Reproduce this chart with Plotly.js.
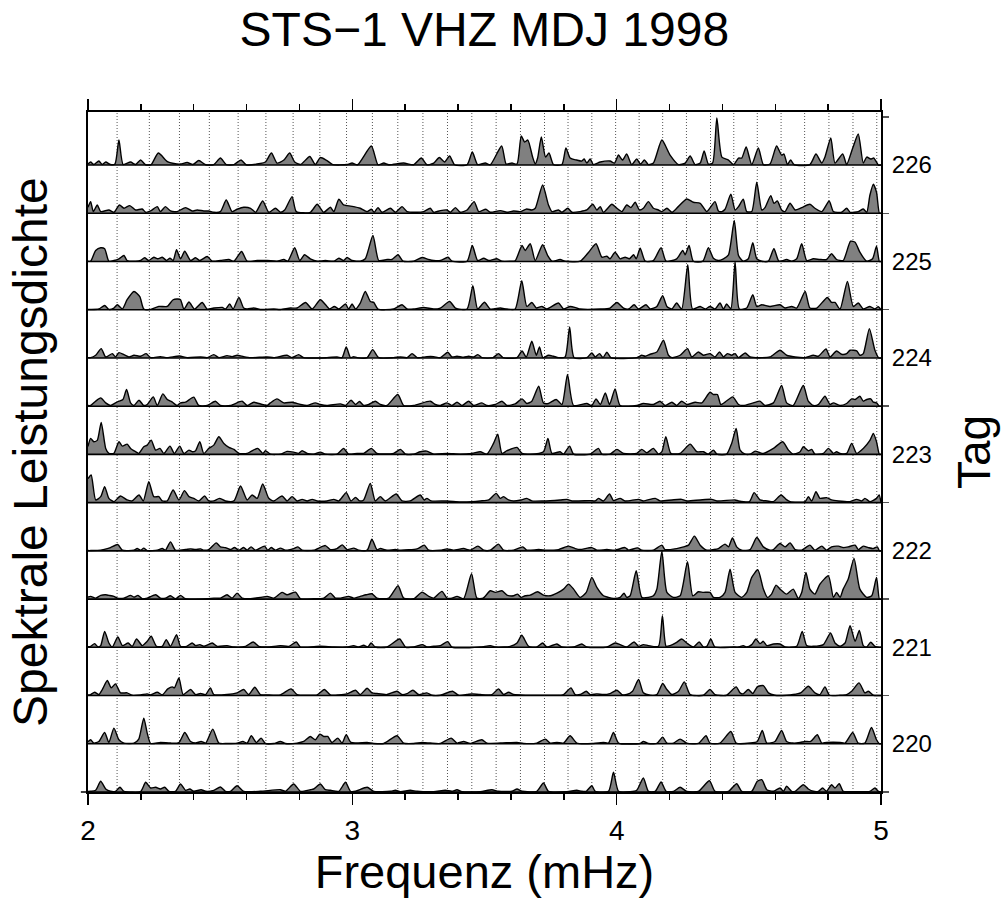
<!DOCTYPE html>
<html><head><meta charset="utf-8">
<script src="https://cdn.plot.ly/plotly-3.0.1.min.js"></script>
<style>html,body{margin:0;padding:0;background:#fff}#chart{width:1007px;height:898px}</style>
</head><body><div id="chart"></div>
<script>
// Frequencies (mHz) of the dotted reference lines
const modeFreqs = [2.110,2.232,2.346,2.459,2.568,2.673,2.776,2.877,2.978,3.076,3.172,3.267,3.360,3.452,3.544,3.636,3.727,3.816,3.906,3.996,4.085,4.174,4.264,4.355,4.443,4.532,4.622,4.711,4.803,4.894,4.984];

// Start time (day of year) of each spectrum segment, top to bottom
const segStart = [226.5,226.0,225.5,225.0,224.5,224.0,223.5,223.0,222.5,222.0,221.5,221.0,220.5,220.0];

// Day labels on the right axis
const dayVals = [220.5,221.5,222.5,223.5,224.5,225.5,226.5];
const dayText = ['220','221','222','223','224','225','226'];
const dayBounds = [220,221,222,223,224,225,226,227];

// Spectra: [frequency mHz, relative power]
const s226b = [[2.000,1],[2.010,3],[2.022,0.5],[2.041,4],[2.054,0.5],[2.067,3],[2.085,0.5],[2.102,1],[2.117,25],[2.133,0.5],[2.161,3],[2.180,0.5],[2.199,5],[2.218,0.3],[2.239,0.5],[2.266,12],[2.300,3.5],[2.325,1.5],[2.350,1],[2.375,2.5],[2.397,0.5],[2.419,4.5],[2.445,0.3],[2.476,0.5],[2.501,7],[2.523,0.5],[2.552,0.5],[2.579,5],[2.598,0.3],[2.652,1.5],[2.671,3],[2.694,12],[2.715,2],[2.741,5],[2.763,12],[2.782,3],[2.804,0.5],[2.839,8.5],[2.860,0.5],[2.879,7.5],[2.901,5],[2.926,0.5],[2.980,0.5],[2.999,2],[3.020,0.3],[3.072,19],[3.097,0.3],[3.119,2],[3.138,0.3],[3.194,2],[3.232,0.3],[3.261,7],[3.282,0.3],[3.308,2],[3.329,7.5],[3.349,3],[3.368,9],[3.387,0.3],[3.434,0.3],[3.454,13],[3.474,0.5],[3.503,2],[3.522,0.3],[3.565,19],[3.582,1],[3.604,2],[3.623,1],[3.639,29],[3.652,23],[3.664,25],[3.682,8],[3.692,1],[3.701,7],[3.715,28],[3.731,8],[3.744,12],[3.761,0.5],[3.793,0.5],[3.808,17],[3.824,7],[3.849,5],[3.868,4],[3.877,6],[3.887,2],[3.900,6],[3.912,0.5],[3.938,3],[3.975,4],[3.992,2],[4.007,10],[4.022,5],[4.038,11],[4.057,0.5],[4.076,6],[4.090,1],[4.105,5],[4.120,0.5],[4.139,2],[4.171,25],[4.202,10],[4.234,0.5],[4.259,2],[4.278,9],[4.297,0.5],[4.316,2],[4.331,14],[4.347,1],[4.363,2],[4.379,47],[4.398,8],[4.423,5],[4.442,0.5],[4.461,7],[4.473,7],[4.490,18],[4.511,0.5],[4.536,17],[4.555,0.5],[4.580,1],[4.605,19],[4.624,10],[4.633,11],[4.646,0.5],[4.658,5],[4.672,0.3],[4.731,0.5],[4.754,11],[4.776,2],[4.788,8],[4.810,27],[4.826,2],[4.855,11],[4.870,0.5],[4.893,17],[4.914,31],[4.933,2],[4.946,8],[4.961,6],[4.973,7],[4.990,0],[5.000,0]];
const s226a = [[2.000,6],[2.010,11.7],[2.020,1.7],[2.035,8.3],[2.048,1.7],[2.079,3.3],[2.098,1],[2.119,8.3],[2.136,5],[2.158,7.7],[2.180,3.3],[2.205,4.3],[2.218,1],[2.237,2.3],[2.262,6.7],[2.274,1.7],[2.293,6.7],[2.312,2.3],[2.337,1.7],[2.369,5.7],[2.394,2.3],[2.413,3.3],[2.438,2.3],[2.457,2.3],[2.476,1],[2.501,1.7],[2.523,13.3],[2.545,1.7],[2.564,4],[2.589,6],[2.615,5],[2.634,1],[2.661,12.3],[2.684,1],[2.709,5],[2.728,1],[2.744,3.3],[2.772,16.7],[2.788,1.7],[2.841,1],[2.867,9],[2.892,1],[2.917,6],[2.930,1.7],[2.949,14],[2.967,8.3],[2.980,7.7],[3.005,6.7],[3.030,5],[3.056,1.7],[3.072,4],[3.083,1],[3.097,5.7],[3.112,1],[3.144,5],[3.163,1],[3.188,6.7],[3.207,1.7],[3.245,1],[3.270,1.7],[3.295,5],[3.308,1],[3.333,2.7],[3.358,3.3],[3.371,1],[3.390,5.7],[3.408,1],[3.434,3.3],[3.461,11.7],[3.478,1.7],[3.505,4],[3.522,1],[3.560,2.7],[3.585,1],[3.610,2.3],[3.635,1.7],[3.660,4.3],[3.679,3.3],[3.692,5],[3.720,28.3],[3.742,8.3],[3.755,1.7],[3.780,3.3],[3.793,1],[3.815,5],[3.831,1],[3.862,1.7],[3.887,3.3],[3.910,9],[3.925,3.3],[3.938,6.7],[3.950,1],[3.982,9],[4.001,5],[4.020,1.7],[4.038,8.3],[4.054,5.7],[4.070,11],[4.086,3.3],[4.101,5],[4.120,11.7],[4.139,5],[4.158,3.3],[4.171,1.7],[4.190,5],[4.209,1],[4.227,5],[4.265,14.3],[4.290,11],[4.316,10],[4.341,1.7],[4.372,11.7],[4.385,2.3],[4.398,1.7],[4.410,4],[4.432,19],[4.448,3.3],[4.461,6.7],[4.479,14],[4.492,1.7],[4.511,1.7],[4.530,31],[4.549,3.3],[4.561,5.7],[4.583,17.7],[4.595,10],[4.608,12.3],[4.624,3.3],[4.637,1.7],[4.656,10],[4.675,3.3],[4.700,5.7],[4.731,9],[4.750,5],[4.776,1.7],[4.804,12.3],[4.820,1.7],[4.851,1],[4.870,5],[4.883,1],[4.914,1.7],[4.933,4.3],[4.946,1],[4.958,18],[4.971,29],[4.983,21],[4.994,0],[5.000,0]];
const s225b = [[2.000,0.3],[2.010,0.3],[2.029,11],[2.048,13.7],[2.063,12.7],[2.079,0.3],[2.098,1],[2.117,2.7],[2.136,6],[2.148,1],[2.180,0.3],[2.199,1],[2.214,3.7],[2.230,1],[2.249,4.3],[2.264,2.7],[2.281,4.3],[2.297,1],[2.310,3.3],[2.322,1],[2.335,11.7],[2.350,2.7],[2.366,10.3],[2.388,1],[2.407,3.7],[2.423,1],[2.451,5],[2.470,0.3],[2.501,1],[2.533,2],[2.552,0.3],[2.581,10],[2.602,0.3],[2.640,1],[2.678,1],[2.715,0.3],[2.741,2],[2.756,0.3],[2.782,13.7],[2.801,1],[2.819,6.7],[2.841,2.7],[2.867,0.3],[2.898,1],[2.930,0.3],[2.949,3.3],[2.967,1],[2.980,4],[2.999,1],[3.030,0.3],[3.049,2.7],[3.078,26],[3.100,1],[3.131,2],[3.150,2],[3.173,6.7],[3.192,0.3],[3.232,0.3],[3.264,4],[3.289,2],[3.308,1],[3.333,1],[3.362,4.3],[3.377,0.3],[3.434,0.3],[3.454,16],[3.474,1],[3.497,3.3],[3.516,1],[3.547,2.7],[3.566,0.3],[3.597,0.3],[3.616,0.7],[3.642,16],[3.654,11],[3.673,17.7],[3.692,1],[3.720,16.7],[3.739,6],[3.755,0.3],[3.786,2],[3.805,0.3],[3.862,0.3],[3.894,9.3],[3.922,17.7],[3.944,4.3],[3.963,5.3],[3.975,2.7],[3.994,9.3],[4.013,2.7],[4.032,4.3],[4.048,2.7],[4.064,6.7],[4.074,2.7],[4.089,13.3],[4.108,0.3],[4.139,1],[4.168,13.7],[4.187,0.3],[4.227,2.7],[4.250,11],[4.259,6.7],[4.274,16],[4.290,0.3],[4.326,0.3],[4.347,13.7],[4.366,3.3],[4.385,1],[4.404,2.7],[4.423,6.7],[4.445,41],[4.461,6],[4.479,0.3],[4.498,2.7],[4.515,18.7],[4.530,2.7],[4.549,0.3],[4.574,0.3],[4.595,12.7],[4.614,0.3],[4.643,2],[4.662,0.3],[4.681,2.7],[4.700,17.7],[4.719,1],[4.744,2.7],[4.769,2],[4.794,2],[4.813,7.7],[4.832,2],[4.857,1],[4.885,20.3],[4.902,19.3],[4.920,9.3],[4.946,0.3],[4.968,2.7],[4.983,15.3],[4.994,0],[5.000,0]];
const s225a = [[2.000,0.3],[2.041,0.7],[2.063,4.3],[2.079,0.3],[2.098,1.7],[2.111,5],[2.130,0.7],[2.148,10],[2.174,18.3],[2.196,13],[2.211,0.7],[2.237,0.3],[2.268,3.3],[2.300,3.3],[2.322,10],[2.340,10.7],[2.350,10],[2.363,0.7],[2.382,7.7],[2.403,0.7],[2.432,7.3],[2.451,0.7],[2.476,1.7],[2.508,2.3],[2.520,0.7],[2.536,5.7],[2.549,0.7],[2.571,12.3],[2.589,1.7],[2.602,0.7],[2.627,1.7],[2.652,0.3],[2.703,0.7],[2.728,0.3],[2.766,1.7],[2.791,1.7],[2.823,7.3],[2.848,0.7],[2.879,10],[2.904,3.3],[2.914,0.7],[2.932,3.3],[2.949,0.7],[2.974,5.7],[2.986,0.7],[2.999,5.7],[3.012,0.7],[3.030,6.7],[3.049,18.3],[3.068,8.3],[3.081,7.3],[3.097,0.7],[3.156,0.7],[3.188,5],[3.207,0.7],[3.232,0.7],[3.270,2.3],[3.308,0.7],[3.333,1.7],[3.368,8.3],[3.390,1.7],[3.434,0.7],[3.456,24],[3.474,0.7],[3.500,7.5],[3.522,0.7],[3.560,1.7],[3.585,0.7],[3.616,0.7],[3.641,29],[3.660,3.3],[3.679,7.3],[3.696,1.7],[3.717,3.3],[3.736,0.7],[3.780,6.7],[3.799,0.7],[3.824,3.3],[3.849,1.7],[3.862,0.7],[3.938,0.7],[3.975,1.7],[4.001,7.3],[4.026,1.7],[4.045,0.7],[4.066,5],[4.083,0.7],[4.111,5],[4.127,0.7],[4.152,3.3],[4.174,14],[4.190,3.3],[4.209,0.7],[4.227,6.7],[4.246,0.7],[4.269,45],[4.287,0.7],[4.316,3.3],[4.335,0.7],[4.353,3.3],[4.372,0.7],[4.391,6.7],[4.404,0.7],[4.416,5.7],[4.432,1],[4.448,48],[4.464,0.7],[4.492,1.7],[4.515,15],[4.530,3.3],[4.549,5],[4.580,3.3],[4.618,5],[4.637,1.7],[4.662,3.3],[4.681,1.7],[4.713,18.3],[4.731,1.7],[4.757,1.7],[4.797,12.3],[4.813,7.3],[4.826,7.3],[4.845,0.7],[4.873,28.3],[4.895,3.3],[4.914,6.7],[4.933,0.7],[4.958,3.3],[4.977,0.7],[4.990,3],[5.000,0]];
const s224b = [[2.000,0.3],[2.010,0.3],[2.029,2.7],[2.050,9.3],[2.067,1],[2.092,4.3],[2.104,1],[2.117,5.3],[2.136,3.3],[2.155,1],[2.174,2.7],[2.199,1.7],[2.220,4.3],[2.237,0.3],[2.274,1.3],[2.300,0.3],[2.346,2],[2.375,0.3],[2.426,1],[2.451,0.3],[2.476,3.3],[2.495,0.3],[2.526,2.3],[2.545,1.3],[2.564,2.7],[2.589,1.3],[2.615,0.3],[2.678,1],[2.703,0.3],[2.753,2.7],[2.772,0.3],[2.797,3.3],[2.816,0.3],[2.904,0.3],[2.942,1],[2.961,0.3],[2.977,11],[2.993,0.3],[3.005,1.3],[3.018,0.3],[3.056,0.3],[3.077,8.3],[3.100,0.3],[3.156,0.3],[3.182,1],[3.207,0.3],[3.226,4.3],[3.245,0.3],[3.282,1.3],[3.308,1.3],[3.333,0.3],[3.361,5.7],[3.377,1],[3.396,1.7],[3.421,0.7],[3.440,1.7],[3.459,1],[3.475,3.3],[3.490,0.3],[3.532,0.3],[3.553,4.3],[3.570,0.3],[3.623,0.3],[3.642,7],[3.658,1],[3.679,16.7],[3.696,2.7],[3.708,11],[3.721,0.3],[3.742,2.7],[3.761,1.7],[3.780,0.3],[3.805,1],[3.822,31],[3.839,0.3],[3.887,0.3],[3.906,5],[3.919,1],[3.935,4.3],[3.948,0.3],[3.963,5.7],[3.978,0.3],[4.076,0.3],[4.095,2.7],[4.108,1.7],[4.127,3.7],[4.152,6],[4.177,17.7],[4.196,2.7],[4.209,0.3],[4.240,2.7],[4.268,9.3],[4.284,1],[4.309,6],[4.328,2.7],[4.353,4.3],[4.372,1],[4.389,6],[4.404,1],[4.419,4.3],[4.435,2.7],[4.448,4.3],[4.461,0.3],[4.486,5],[4.505,1],[4.549,0.3],[4.580,1],[4.618,7.7],[4.643,2.7],[4.675,1],[4.713,0.3],[4.744,2.7],[4.763,1.7],[4.792,9],[4.807,1],[4.832,7],[4.851,3.7],[4.870,4.3],[4.883,7.7],[4.908,7],[4.920,2.7],[4.933,4.3],[4.956,29.3],[4.977,7.7],[4.992,0],[5.000,0]];
const s224a = [[2.000,0.7],[2.010,0.7],[2.029,5],[2.048,8.3],[2.067,3.3],[2.085,0.7],[2.104,3.3],[2.117,5],[2.132,6.7],[2.146,16.7],[2.161,3.3],[2.174,0.7],[2.193,6],[2.211,0.7],[2.224,1.7],[2.247,9.3],[2.262,0.7],[2.283,12.3],[2.300,6.7],[2.319,4],[2.337,0.7],[2.350,3.3],[2.369,4],[2.400,9],[2.419,0.7],[2.451,0.7],[2.482,5],[2.501,0.7],[2.539,0.7],[2.583,5],[2.602,0.7],[2.627,4],[2.659,1.7],[2.678,0.7],[2.690,3.3],[2.715,7.3],[2.741,3.3],[2.772,4],[2.804,1.7],[2.829,0.7],[2.860,3.3],[2.879,1.7],[2.904,0.7],[2.955,2.3],[2.974,0.7],[2.995,6],[3.012,1.7],[3.027,4.7],[3.043,0.7],[3.062,1.7],[3.087,5],[3.106,1.7],[3.131,0.7],[3.172,11.7],[3.194,0.7],[3.232,0.7],[3.295,5],[3.314,1.7],[3.333,0.7],[3.358,3.3],[3.377,0.7],[3.396,4],[3.415,0.7],[3.440,5],[3.459,0.7],[3.490,3.3],[3.509,0.7],[3.541,1.7],[3.566,5],[3.585,0.7],[3.616,2.3],[3.642,7.3],[3.660,2.7],[3.679,5],[3.705,20],[3.723,3.3],[3.742,2.7],[3.771,6.7],[3.793,1.7],[3.814,31.7],[3.837,0.7],[3.887,2.7],[3.906,0.7],[3.922,7.3],[3.938,1.7],[3.957,13.3],[3.973,1.7],[3.994,17.3],[4.013,0.7],[4.076,0.7],[4.101,2.7],[4.139,1.7],[4.164,5],[4.183,0.7],[4.209,4],[4.227,0.7],[4.246,5],[4.265,1.7],[4.297,4],[4.322,3.3],[4.353,14],[4.366,11.7],[4.381,11.7],[4.394,1.7],[4.410,4],[4.439,9.3],[4.461,1.7],[4.479,0.7],[4.517,3.3],[4.542,5],[4.561,0.7],[4.593,3.3],[4.624,20.7],[4.643,3.3],[4.668,0.7],[4.706,20.7],[4.725,5],[4.744,0.7],[4.763,1.7],[4.788,10],[4.807,1.7],[4.820,3.3],[4.845,0.7],[4.870,2.7],[4.889,7.3],[4.902,6.7],[4.920,10],[4.933,5],[4.946,6.7],[4.961,7.3],[4.971,4],[4.983,3.3],[4.994,0],[5.000,0]];
const s223b = [[2.000,8],[2.010,16],[2.022,12.7],[2.035,14],[2.050,32],[2.067,6],[2.079,1],[2.098,1],[2.117,12.7],[2.130,8.3],[2.148,10.3],[2.161,6],[2.180,2.7],[2.192,1],[2.211,7.7],[2.224,9.3],[2.239,14.3],[2.256,4.3],[2.272,6],[2.287,1],[2.310,8.3],[2.327,1],[2.347,8.3],[2.363,1],[2.382,4.3],[2.394,2.7],[2.407,3.7],[2.423,12.7],[2.438,1],[2.457,6],[2.476,9.3],[2.495,17.7],[2.514,11],[2.533,7],[2.552,5],[2.571,1],[2.602,1],[2.615,2.7],[2.642,6],[2.662,1],[2.671,3.7],[2.690,0.3],[2.728,0.3],[2.753,3],[2.778,2.3],[2.797,1],[2.810,3.7],[2.829,1],[2.854,0.3],[2.879,2.3],[2.898,0.3],[2.942,0.3],[2.967,6],[2.986,0.3],[3.018,1],[3.043,1],[3.072,6],[3.093,1],[3.156,1],[3.182,5],[3.201,0.3],[3.232,0.3],[3.257,2.7],[3.282,3.3],[3.308,0.3],[3.358,1],[3.408,0.3],[3.453,1],[3.484,2.7],[3.509,0.3],[3.534,11],[3.550,20.3],[3.566,1],[3.585,3.7],[3.623,7],[3.642,1],[3.673,0.3],[3.723,2.7],[3.740,16],[3.755,1],[3.786,2.7],[3.799,0.3],[3.822,8.3],[3.837,0.3],[3.900,0.3],[3.931,6],[3.944,0.3],[3.975,0.3],[4.001,5],[4.026,1],[4.076,1],[4.095,5],[4.114,1.7],[4.139,6],[4.158,0.3],[4.171,2.7],[4.186,17.7],[4.205,1],[4.240,1],[4.278,10.3],[4.303,2.7],[4.328,2.7],[4.347,0.3],[4.366,4.3],[4.379,0.3],[4.416,0.3],[4.435,11],[4.452,26],[4.467,4.3],[4.486,0.3],[4.505,0.3],[4.524,3.3],[4.542,1.7],[4.555,1],[4.593,6],[4.628,12.7],[4.650,4.3],[4.668,0.3],[4.694,2.7],[4.706,7.7],[4.725,3.7],[4.738,5],[4.750,0.3],[4.782,1],[4.801,6],[4.820,1],[4.832,2.7],[4.845,1],[4.870,1],[4.889,11],[4.908,1],[4.933,6],[4.958,14],[4.971,21],[4.983,12.7],[4.994,0],[5.000,0]];
const s223a = [[2.000,24],[2.012,27.7],[2.029,2.7],[2.048,6],[2.063,16],[2.079,4.3],[2.098,1],[2.123,6.7],[2.148,2.7],[2.167,1.7],[2.193,7.7],[2.209,1.7],[2.230,21],[2.249,6],[2.268,6],[2.281,1.7],[2.300,1.7],[2.322,12.7],[2.344,2.7],[2.365,12],[2.382,6],[2.400,4.3],[2.419,1.7],[2.441,6.7],[2.457,1.7],[2.476,1.7],[2.497,4.3],[2.520,1.7],[2.552,1.7],[2.577,16.7],[2.602,2.7],[2.621,7.7],[2.640,4.3],[2.661,18.7],[2.684,4.3],[2.703,1.7],[2.734,6.7],[2.753,1.7],[2.772,6],[2.791,1.7],[2.810,3.3],[2.829,1.7],[2.848,3.3],[2.867,1.7],[2.904,1.7],[2.930,3.3],[2.949,1.7],[2.977,10],[2.995,1.7],[3.012,5.3],[3.028,1.7],[3.043,2.7],[3.068,19.3],[3.087,1.7],[3.106,6],[3.125,1.7],[3.166,8.7],[3.188,1.7],[3.219,1.7],[3.257,7.7],[3.272,2.7],[3.282,4.3],[3.298,1.7],[3.358,1.7],[3.408,0.7],[3.453,1],[3.484,1.7],[3.516,2.7],[3.544,9.3],[3.560,4.3],[3.572,6],[3.591,2.7],[3.610,1.7],[3.638,2.7],[3.660,4.3],[3.679,1.7],[3.723,1.7],[3.786,2.7],[3.812,3.3],[3.831,1.7],[3.900,2],[3.919,1.7],[3.931,4.3],[3.950,1.7],[3.973,8.7],[3.988,2],[4.013,4.3],[4.032,1.7],[4.083,3.3],[4.101,1.7],[4.146,4.3],[4.164,1.7],[4.209,2.7],[4.246,3.3],[4.265,1.7],[4.316,2.7],[4.360,3.3],[4.379,1.7],[4.448,2.7],[4.461,1.7],[4.502,1],[4.520,10],[4.542,2.7],[4.570,1.7],[4.593,1],[4.622,7.7],[4.641,3.3],[4.656,1],[4.713,1],[4.725,6],[4.738,1.7],[4.754,11],[4.769,4.3],[4.794,5],[4.813,2.7],[4.839,1.7],[4.883,1],[4.908,3.3],[4.927,1.7],[4.939,4.3],[4.958,1],[4.983,4.3],[4.993,7.7],[5.000,0]];
const s222b = [[2.000,0.3],[2.010,0.3],[2.048,0.7],[2.073,2.3],[2.085,3.3],[2.113,6.3],[2.130,0.7],[2.174,0.7],[2.186,2.3],[2.199,0.7],[2.211,2.7],[2.224,0.3],[2.262,0.7],[2.281,2.3],[2.293,0.7],[2.312,9],[2.331,0.7],[2.369,1.3],[2.388,2],[2.407,1.3],[2.426,2],[2.438,0.7],[2.457,1.3],[2.485,8],[2.501,4],[2.520,3.3],[2.539,1.3],[2.554,3.3],[2.571,0.7],[2.589,3.3],[2.602,0.7],[2.617,4],[2.634,0.7],[2.668,4.7],[2.680,0.7],[2.693,3.3],[2.709,0.7],[2.728,2.7],[2.747,0.7],[2.778,2.3],[2.794,4],[2.810,0.7],[2.854,0.7],[2.898,5.3],[2.917,1.3],[2.942,2.3],[2.962,6],[2.980,1.3],[3.005,2.7],[3.024,0.7],[3.056,0.7],[3.074,11.7],[3.093,1.3],[3.106,2.3],[3.131,0.7],[3.163,1.3],[3.182,0.7],[3.245,2],[3.272,5.7],[3.289,0.7],[3.333,0.7],[3.358,2],[3.383,0.7],[3.421,2.3],[3.446,0.7],[3.475,4.7],[3.497,0.7],[3.522,0.7],[3.553,6.7],[3.572,0.7],[3.610,0.7],[3.645,4],[3.660,0.7],[3.705,1.3],[3.736,0.7],[3.780,1.3],[3.818,4.7],[3.843,2.3],[3.862,1.3],[3.906,3.3],[3.925,0.7],[3.963,1.3],[3.994,0.7],[4.032,3.3],[4.045,0.7],[4.079,3],[4.095,0.7],[4.139,0.7],[4.171,5.7],[4.183,1.3],[4.227,2.3],[4.253,4],[4.272,5.7],[4.294,14.7],[4.316,5.7],[4.341,0.7],[4.366,1.3],[4.385,2.3],[4.410,6.7],[4.423,4],[4.438,13],[4.454,4],[4.473,0.7],[4.505,1.3],[4.530,13.3],[4.555,4],[4.580,0.7],[4.593,1.3],[4.618,7.3],[4.637,4],[4.656,8],[4.675,1.3],[4.700,0.7],[4.731,5.7],[4.750,0.7],[4.776,4.7],[4.794,0.7],[4.813,4],[4.839,4.7],[4.857,3.3],[4.876,4],[4.902,5.7],[4.914,1.3],[4.933,4.7],[4.952,3.3],[4.971,2.3],[4.986,4],[4.994,0],[5.000,0]];
const s222a = [[2.000,2],[2.010,2.7],[2.029,1],[2.048,3.7],[2.067,4.3],[2.079,3.7],[2.098,2.7],[2.111,1],[2.136,1],[2.161,3.7],[2.174,2],[2.189,3.7],[2.205,0.3],[2.224,1],[2.256,4.3],[2.274,1],[2.293,1],[2.312,3.3],[2.331,0.3],[2.350,3.7],[2.369,0.3],[2.451,0.3],[2.476,1],[2.501,1],[2.526,4.3],[2.545,1],[2.564,6],[2.583,1],[2.615,0.3],[2.652,1.7],[2.678,2.7],[2.703,1],[2.734,6.7],[2.753,4.3],[2.785,7],[2.804,0.3],[2.854,0.3],[2.892,1],[2.917,6],[2.936,1],[2.955,1],[2.986,2.7],[3.005,1],[3.030,2.7],[3.052,4.3],[3.074,5.3],[3.093,1],[3.138,1],[3.173,13.3],[3.194,1],[3.232,0.3],[3.264,7],[3.289,2.7],[3.308,1],[3.339,7.7],[3.358,1],[3.377,1],[3.396,2.7],[3.421,0.3],[3.451,25.3],[3.471,1],[3.495,1],[3.522,8.3],[3.541,6.7],[3.566,8.3],[3.585,4],[3.610,3.3],[3.625,5],[3.638,1.7],[3.654,3.3],[3.673,4],[3.701,7.3],[3.723,4],[3.749,3.3],[3.774,6],[3.799,10],[3.818,15],[3.837,10],[3.862,1.7],[3.885,6.7],[3.906,21.7],[3.925,11.7],[3.950,3.3],[3.969,1.7],[3.988,0.7],[4.013,1.7],[4.028,6],[4.038,1.7],[4.051,3.3],[4.074,28.3],[4.095,1.7],[4.120,1.7],[4.139,3.3],[4.152,10],[4.171,48],[4.190,6.7],[4.215,1.7],[4.240,3.3],[4.268,37.3],[4.288,3.3],[4.309,7.3],[4.328,6.7],[4.353,6.7],[4.366,1.7],[4.391,1.7],[4.410,6.7],[4.429,30],[4.448,6.7],[4.473,1.7],[4.492,6.7],[4.511,21.7],[4.534,29.3],[4.555,10],[4.570,1.7],[4.586,5],[4.603,14],[4.618,10],[4.643,5],[4.668,10],[4.687,0.7],[4.700,6.7],[4.716,26.7],[4.731,10],[4.750,5],[4.769,15],[4.801,23.3],[4.820,1.7],[4.832,6.7],[4.845,1.7],[4.857,10],[4.876,20],[4.898,40.7],[4.920,10],[4.946,1.7],[4.965,3.3],[4.983,21.7],[4.994,0],[5.000,0]];
const s221b = [[2.000,0.5],[2.010,1],[2.025,3.7],[2.038,0.3],[2.048,1.7],[2.063,16],[2.079,4.3],[2.092,0.3],[2.113,10.3],[2.130,1.7],[2.152,4.3],[2.167,1],[2.184,8.3],[2.205,1.7],[2.224,6],[2.239,11],[2.259,1],[2.281,1],[2.296,7.7],[2.312,1],[2.335,12.7],[2.350,1],[2.373,1],[2.394,4.3],[2.407,1.7],[2.423,2.7],[2.438,1],[2.470,4.3],[2.489,1],[2.526,1.7],[2.552,0.3],[2.596,1],[2.625,5.3],[2.646,1],[2.678,0.3],[2.728,1.7],[2.760,1],[2.788,5.3],[2.804,0.3],[2.879,1],[2.930,0.3],[2.980,0.3],[3.005,1.7],[3.024,0.3],[3.043,2],[3.058,0.3],[3.071,4.3],[3.087,0.3],[3.131,0.3],[3.179,8.3],[3.201,0.3],[3.232,0.3],[3.266,2.7],[3.282,0.3],[3.308,1],[3.333,1.7],[3.361,5.7],[3.377,0.3],[3.484,0.3],[3.522,1.7],[3.541,0.3],[3.572,0.3],[3.597,1],[3.623,4.3],[3.641,12],[3.667,1],[3.698,0.3],[3.720,4.3],[3.736,0.3],[3.774,3.3],[3.793,0.3],[3.837,0.3],[3.868,3.3],[3.887,0.3],[3.963,0.3],[3.994,4.3],[4.013,2.7],[4.038,0.3],[4.066,5.3],[4.083,1],[4.101,2.7],[4.120,1.7],[4.158,1],[4.173,31.7],[4.187,1],[4.202,1.7],[4.227,5],[4.246,8.3],[4.265,4.3],[4.290,0.3],[4.312,5.3],[4.328,0.3],[4.341,1],[4.356,8.3],[4.372,0.3],[4.442,0.3],[4.461,0.3],[4.479,1.7],[4.492,0.3],[4.511,2.7],[4.527,8.3],[4.542,3.7],[4.555,6],[4.568,1.7],[4.593,3.3],[4.618,3.3],[4.637,0.3],[4.681,1],[4.702,16],[4.719,1.7],[4.744,1],[4.782,2.7],[4.809,14.3],[4.826,4.3],[4.845,1],[4.864,4.3],[4.883,21.7],[4.902,6],[4.918,17],[4.933,1.7],[4.946,0.3],[4.961,5],[4.977,1],[4.992,0],[5.000,0]];
const s221a = [[2.000,0.5],[2.010,1],[2.025,3.3],[2.041,1],[2.054,6],[2.073,15],[2.088,7.7],[2.104,11.7],[2.123,2.7],[2.148,2.7],[2.167,0.3],[2.199,0.7],[2.224,1.7],[2.237,0.7],[2.262,3.3],[2.281,0.7],[2.302,6.7],[2.319,8.7],[2.327,7.7],[2.344,17.7],[2.360,1],[2.388,6],[2.407,1],[2.426,2],[2.445,1],[2.463,7.7],[2.476,1],[2.526,1],[2.564,2.7],[2.589,6],[2.608,1],[2.631,8.3],[2.652,1],[2.678,0.7],[2.728,0.7],[2.768,6.7],[2.791,1],[2.829,0.3],[2.867,0.7],[2.894,6],[2.917,0.7],[2.949,0.7],[2.980,1.7],[3.012,5.3],[3.030,1],[3.056,7.3],[3.074,2.7],[3.093,2],[3.131,1],[3.169,4.3],[3.188,1],[3.207,2],[3.229,5.3],[3.251,1],[3.282,2.7],[3.301,0.3],[3.333,0.3],[3.379,4.3],[3.402,0.3],[3.434,1],[3.453,1.7],[3.484,1],[3.528,1],[3.553,6.7],[3.572,1],[3.591,3.3],[3.610,1],[3.660,0.3],[3.711,0.3],[3.768,0.3],[3.799,1],[3.827,7.7],[3.843,1],[3.862,1],[3.885,4.3],[3.900,1],[3.925,1.7],[3.950,1],[3.975,2],[4.001,5.3],[4.020,1],[4.038,1],[4.060,4.3],[4.083,16],[4.101,2.7],[4.127,0.3],[4.152,1],[4.174,12],[4.190,6],[4.209,1],[4.234,4.3],[4.256,13.7],[4.278,1],[4.328,0.3],[4.353,6],[4.372,1],[4.416,0.3],[4.452,8.7],[4.467,2.7],[4.479,1.7],[4.498,6],[4.515,2],[4.532,8.7],[4.555,10],[4.574,2.7],[4.599,0.3],[4.643,0.3],[4.668,1],[4.696,2.7],[4.725,9.3],[4.750,2.7],[4.769,1],[4.788,8.7],[4.805,0.3],[4.845,0.3],[4.870,1],[4.889,4.3],[4.917,12.7],[4.939,2.7],[4.952,4.3],[4.971,0.3],[4.992,0],[5.000,0]];
const s220b = [[2.000,2],[2.010,4],[2.022,0.7],[2.041,2.3],[2.063,11.3],[2.079,1.3],[2.098,15.7],[2.117,4],[2.136,0.7],[2.174,0.7],[2.192,4.7],[2.211,25.7],[2.224,10.7],[2.237,0.3],[2.274,1.3],[2.312,0.7],[2.344,1.3],[2.366,11.3],[2.388,2.3],[2.407,0.7],[2.428,2.3],[2.445,0.7],[2.472,14.7],[2.495,0.7],[2.526,0.3],[2.564,0.7],[2.586,2.3],[2.602,0.7],[2.618,8],[2.637,1.3],[2.655,5.7],[2.671,0.3],[2.703,0.3],[2.728,2.3],[2.747,0.3],[2.791,0.7],[2.816,2.3],[2.841,7.3],[2.860,4],[2.877,9.7],[2.892,7.3],[2.907,7.3],[2.923,1.3],[2.945,5.7],[2.961,0.7],[2.977,9],[2.995,1.3],[3.056,1.3],[3.081,0.3],[3.119,0.3],[3.169,8],[3.194,0.7],[3.232,0.3],[3.264,1.3],[3.295,0.7],[3.333,0.3],[3.374,5.7],[3.396,0.7],[3.421,2.3],[3.446,0.3],[3.490,4],[3.509,0.7],[3.560,0.7],[3.623,1.3],[3.648,0.3],[3.698,0.7],[3.730,4.7],[3.749,0.7],[3.774,1.3],[3.799,0.7],[3.824,8],[3.849,0.7],[3.912,0.3],[3.950,1.3],[3.969,0.7],[3.988,11.3],[4.007,0.7],[4.089,0.3],[4.101,2.3],[4.120,0.3],[4.152,0.3],[4.174,6.7],[4.190,0.7],[4.215,0.7],[4.240,4.7],[4.265,0.7],[4.309,0.3],[4.338,8],[4.353,0.7],[4.391,0.7],[4.432,12.3],[4.452,0.7],[4.505,0.7],[4.532,2.3],[4.551,13.3],[4.568,0.7],[4.599,2.3],[4.624,13.3],[4.643,2.3],[4.668,0.7],[4.694,1.3],[4.713,2.3],[4.734,2.3],[4.759,9],[4.776,0.7],[4.794,1.3],[4.845,1.3],[4.864,0.7],[4.893,11.3],[4.914,0.7],[4.939,0.7],[4.964,16.3],[4.983,4],[4.994,0],[5.000,0]];
const s220a = [[2.000,0.5],[2.010,0.7],[2.029,1.7],[2.048,10.7],[2.067,3],[2.085,0.7],[2.104,0.7],[2.121,4.7],[2.136,0.7],[2.199,0.3],[2.218,9.7],[2.237,4],[2.256,4.7],[2.274,3],[2.290,4.7],[2.306,0.7],[2.331,0.7],[2.350,8],[2.369,1.7],[2.385,3],[2.400,0.7],[2.428,2.3],[2.445,0.7],[2.476,1.7],[2.501,5],[2.520,0.7],[2.539,0.7],[2.564,6.3],[2.589,0.7],[2.652,0.7],[2.728,2.3],[2.747,0.7],[2.778,8],[2.804,0.7],[2.841,2.3],[2.854,3],[2.879,8],[2.898,2.3],[2.917,1.7],[2.949,0.7],[2.974,9.7],[2.993,0.7],[3.012,0.7],[3.056,4.7],[3.081,0.7],[3.144,0.7],[3.163,1.7],[3.182,0.3],[3.219,1.7],[3.245,0.7],[3.308,0.3],[3.352,1.7],[3.377,0.7],[3.396,2.3],[3.415,0.3],[3.484,0.3],[3.528,2.3],[3.553,0.7],[3.604,0.7],[3.623,3],[3.642,0.7],[3.698,0.7],[3.723,9],[3.742,0.7],[3.812,0.3],[3.849,1.7],[3.868,0.7],[3.885,0.7],[3.906,6.3],[3.919,0.7],[3.969,0.7],[3.988,19.7],[4.007,0.7],[4.051,0.3],[4.076,1.7],[4.101,14],[4.120,0.7],[4.146,0.7],[4.168,10],[4.187,0.7],[4.215,0.7],[4.240,4.7],[4.265,0.7],[4.309,0.7],[4.351,11.3],[4.372,0.7],[4.423,0.7],[4.454,8.3],[4.473,0.7],[4.511,0.7],[4.532,10.7],[4.549,12.3],[4.568,2.3],[4.593,0.7],[4.618,4],[4.631,0.7],[4.643,5.7],[4.662,0.7],[4.675,0.7],[4.706,7.3],[4.725,3],[4.744,0.7],[4.763,0.7],[4.779,4],[4.794,0.7],[4.813,7.3],[4.826,4],[4.842,8.3],[4.857,0.7],[4.883,0.3],[4.958,0.7],[4.977,4],[4.990,0.7],[5.000,0]];

const spectra = [s226b,s226a,s225b,s225a,s224b,s224a,s223b,s223a,s222b,s222a,s221b,s221a,s220b,s220a];

// Conversion of relative power into day units of the stacked axis
const powerScale = 0.5 / 48.25;
const yTop = 227.05;

const traces = [];
// dotted reference lines
const mx = [], my = [];
modeFreqs.forEach(f => { mx.push(f, f, null); my.push(220, yTop, null); });
traces.push({x: mx, y: my, mode: 'lines', line: {color: '#555', width: 1, dash: '1px,2px'}, hoverinfo: 'skip'});

spectra.forEach((sp, i) => {
  const b = segStart[i];
  traces.push({x: [2, 5], y: [b, b], mode: 'lines', line: {color: 'black', width: 1.6}, hoverinfo: 'skip'});
  traces.push({
    x: sp.map(p => p[0]),
    y: sp.map(p => b + p[1] * powerScale),
    mode: 'lines',
    line: {color: 'black', width: 1.4, shape: 'spline', smoothing: 0.6},
    fill: 'tonexty', fillcolor: '#808080'
  });
});

const FONT = 'Liberation Sans, Arial, Helvetica, sans-serif';
const layout = {
  width: 1007, height: 898,
  margin: {l: 88, r: 126, t: 112, b: 106, pad: 0},
  paper_bgcolor: '#fff', plot_bgcolor: '#fff',
  font: {family: FONT, color: '#000'},
  showlegend: false, hovermode: false,
  title: {text: 'STS\u22121 VHZ MDJ 1998', font: {size: 48, family: FONT}, x: 0.481, xanchor: 'center', y: 0.968, yanchor: 'middle'},
  xaxis: {
    range: [2, 5], tickvals: [2, 3, 4, 5], ticktext: ['2', '3', '4', '5'],
    ticks: 'outside', ticklen: 11, tickwidth: 1.5, tickcolor: '#000',
    showline: true, linewidth: 2, linecolor: '#000', mirror: 'ticks',
    showgrid: false, zeroline: false, tickfont: {size: 28}, ticklabelstandoff: 1,
    minor: {dtick: 0.2, tick0: 2, ticks: 'outside', ticklen: 6, tickwidth: 1.5, tickcolor: '#000', showgrid: false},
    title: {text: 'Frequenz (mHz)', font: {size: 47}, standoff: 18}
  },
  yaxis: {
    range: [220, yTop], side: 'right',
    tickmode: 'array', tickvals: dayVals, ticktext: dayText,
    ticks: '', tickfont: {size: 24}, ticklabelstandoff: 4,
    showline: true, linewidth: 2, linecolor: '#000', mirror: true,
    showgrid: false, zeroline: false,
    minor: {tickmode: 'array', tickvals: dayBounds, ticks: 'outside', ticklen: 6, tickwidth: 1.5, tickcolor: '#555', showgrid: false},
    title: {text: 'Tag', font: {size: 46}, standoff: 27}
  },
  shapes: [{type: 'line', xref: 'paper', yref: 'paper', x0: -0.009, x1: 0, y0: 0, y1: 0, line: {color: '#000', width: 1.5}}],
  annotations: [{
    text: 'Spektrale Leistungsdichte', textangle: -90, showarrow: false,
    xref: 'paper', yref: 'paper', x: 0, y: 0.5, xanchor: 'center', yanchor: 'middle',
    xshift: -58, font: {size: 48, family: FONT}
  }]
};
Plotly.newPlot('chart', traces, layout, {staticPlot: true, displayModeBar: false});
</script></body></html>
